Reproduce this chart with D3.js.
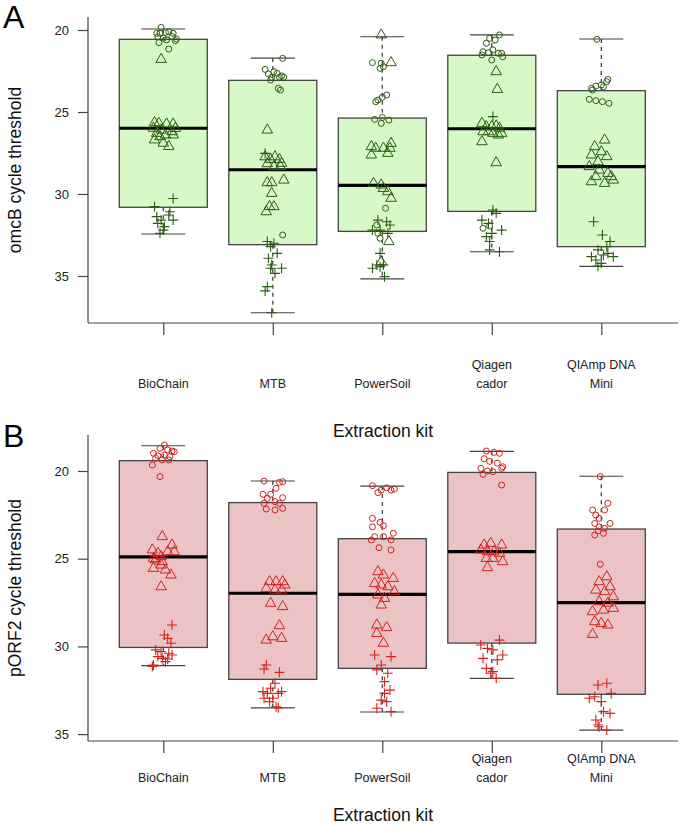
<!DOCTYPE html>
<html><head><meta charset="utf-8">
<script src="https://cdnjs.cloudflare.com/ajax/libs/d3/7.8.5/d3.min.js"></script>
<style>body{margin:0;background:#fff}svg{display:block;font-family:"Liberation Sans",Arial,Helvetica,sans-serif}</style>
</head><body><svg id="c" width="681" height="828"></svg>
<script>
// ---------- DATA ----------
const kits = [["BioChain"],["MTB"],["PowerSoil"],["Qiagen","cador"],["QIAmp DNA","Mini"]];
const ctTicks = [20,25,30,35];

// box statistics: [whiskerLow, q1, median, q3, whiskerHigh]
const omcbBoxes = [
  [19.94,20.57,25.99,30.81,32.44],
  [21.71,23.07,28.52,33.09,37.24],
  [20.41,25.37,29.47,32.28,35.18],
  [20.30,21.54,26.02,31.06,33.52],
  [20.55,23.70,28.33,33.21,34.41]
];
const porf2Boxes = [
  [18.56,19.41,24.90,30.06,31.10],
  [20.57,21.80,26.97,31.88,33.50],
  [20.86,23.86,27.03,31.25,33.74],
  [18.88,20.08,24.60,29.81,31.82],
  [20.30,23.31,27.50,32.73,34.77]
];

// points: [kit index, Ct value, horizontal jitter (kit units)]
const omcbCircles = [
  [0,19.84,-0.02],[0,20.2,-0.06],[0,20.2,-0.03],[0,20.15,0.02],[0,20.1,0.05],[0,20.2,0.09],[0,20.41,-0.05],[0,20.5,0],[0,20.6,0.03],[0,20.4,0.08],[0,20.55,0.12],[0,20.77,-0.04],[0,21.16,0.05],[0,20.65,0.11],
  [1,21.73,0.09],[1,22.4,-0.07],[1,22.54,0.01],[1,22.64,0.04],[1,22.8,0.08],[1,22.68,-0.04],[1,22.88,-0.01],[1,22.88,0.06],[1,22.88,0.1],[1,23.05,-0.02],[1,23.56,0.05],[1,23.66,0.07],[1,32.5,0.09],
  [2,21.99,-0.09],[2,22.03,-0.01],[2,22.24,0.01],[2,22.34,-0.02],[2,24.27,-0.04],[2,24.1,0],[2,23.96,0.04],[2,24.37,-0.06],[2,25.45,-0.07],[2,25.33,0],[2,25.49,0.06],[2,25.69,-0.01],[2,30.87,0.03],[2,31.89,-0.05],[2,32.4,-0.04],[2,32.7,-0.02],
  [3,20.3,0.07],[3,20.51,-0.02],[3,20.81,-0.05],[3,20.61,0.03],[3,21.32,-0.08],[3,21.38,-0.03],[3,21.22,0.01],[3,21.42,0.06],[3,21.63,0.1],[3,21.52,-0.09],[3,21.83,0],[3,21.42,0.09],[3,32.09,-0.08],[3,31.95,-0.02],
  [4,20.57,-0.04],[4,23.56,-0.09],[4,23.42,-0.05],[4,23.35,0],[4,23.15,0.05],[4,23.01,0.06],[4,23.66,-0.08],[4,23.46,0.02],[4,24.23,-0.11],[4,24.31,-0.05],[4,24.37,0.01],[4,24.47,0.07]
];
const omcbTriangles = [
  [0,21.79,-0.02],[0,25.65,-0.08],[0,25.69,-0.04],[0,25.73,0.03],[0,25.73,0.09],[0,25.99,-0.09],[0,26.1,-0.02],[0,26.0,0.11],[0,26.3,-0.06],[0,26.4,0.02],[0,26.4,0.09],[0,26.7,-0.08],[0,26.9,0],[0,27.1,0.05],[0,26.5,-0.03],[0,26.2,0.08],
  [1,26.1,-0.05],[1,27.73,-0.07],[1,27.89,-0.02],[1,27.73,0.02],[1,27.89,0.06],[1,28.13,0.08],[1,28.15,-0.05],[1,28.33,0.01],[1,28.33,0.07],[1,29.15,0.1],[1,29.31,-0.05],[1,29.31,-0.01],[1,29.96,-0.01],[1,30.77,-0.03],[1,31.08,-0.06],[1,30.77,0.01],
  [2,20.3,-0.01],[2,21.99,0.08],[2,27.11,-0.1],[2,27.21,-0.06],[2,27.21,0.01],[2,26.91,0.08],[2,27.21,0.07],[2,27.62,-0.1],[2,27.52,0.05],[2,29.35,-0.08],[2,29.45,-0.01],[2,29.66,0.01],[2,29.86,0.05],[2,30.26,0.08],[2,32.9,0.06],[2,34.13,-0.01],
  [3,22.54,0.04],[3,23.62,0.05],[3,25.69,-0.09],[3,25.89,-0.05],[3,25.89,0],[3,25.85,0.04],[3,25.99,0.07],[3,26.3,0.09],[3,26.2,-0.03],[3,26.3,0.01],[3,26.2,-0.08],[3,26.4,0.06],[3,26.81,-0.09],[3,28.09,0.04],
  [4,26.71,0.03],[4,27.11,-0.06],[4,27.42,0],[4,27.62,-0.09],[4,27.72,0.05],[4,28.03,-0.03],[4,28.33,-0.11],[4,28.54,-0.02],[4,28.74,0.06],[4,28.94,-0.05],[4,28.94,0.09],[4,29.25,-0.09],[4,29.35,0.03],[4,29.15,0.11]
];
const omcbPluses = [
  [0,30.77,-0.08],[0,30.27,0.09],[0,31.38,-0.06],[0,31.08,0.06],[0,31.59,-0.02],[0,31.59,0.09],[0,32.2,0],[0,32.4,-0.03],[0,31.79,-0.05],[0,31.28,0.05],[0,31.99,0.01],
  [1,27.52,-0.07],[1,32.9,-0.05],[1,33.0,0.01],[1,33.21,-0.02],[1,33.62,0.04],[1,33.92,-0.04],[1,34.33,-0.01],[1,34.53,0.08],[1,34.53,-0.02],[1,34.84,0.02],[1,35.65,-0.05],[1,35.91,-0.07],[1,37.24,-0.01],
  [2,31.59,-0.04],[2,31.69,0.04],[2,31.89,0.07],[2,32.2,-0.09],[2,32.2,-0.02],[2,32.4,0.05],[2,33.62,-0.02],[2,34.33,-0.05],[2,34.53,-0.09],[2,34.43,-0.02],[2,34.33,0.01],[2,35.04,0.02],
  [3,25.28,0.01],[3,30.98,0.01],[3,31.18,0.04],[3,31.59,-0.09],[3,31.79,-0.03],[3,32.2,0.09],[3,32.4,0],[3,32.6,-0.05],[3,32.9,-0.02],[3,33.41,-0.02],[3,33.52,0.07],
  [4,31.69,-0.07],[4,32.5,0.01],[4,32.9,0.08],[4,33.21,0.05],[4,33.41,-0.03],[4,33.82,-0.09],[4,33.72,0.02],[4,33.62,0.06],[4,33.82,0.11],[4,34.02,-0.05],[4,34.23,0],[4,34.4,-0.03]
];
const porf2Circles = [
  [0,18.52,0.01],[0,18.71,-0.03],[0,18.8,0.04],[0,18.86,0.08],[0,18.99,-0.09],[0,19.13,-0.05],[0,19.09,0.01],[0,19.18,0.06],[0,18.9,0.1],[0,19.28,-0.07],[0,19.37,-0.01],[0,19.37,0.05],[0,19.66,-0.1],[0,20.32,-0.03],
  [1,20.57,-0.08],[1,20.65,0.06],[1,20.61,0.09],[1,20.99,0.03],[1,21.33,-0.09],[1,21.33,-0.02],[1,21.52,0.09],[1,21.56,-0.05],[1,21.75,0.02],[1,21.84,-0.08],[1,21.84,0.06],[1,22.17,-0.06],[1,22.22,0.02],[1,22.13,0.09],
  [2,20.84,-0.09],[2,21.09,-0.01],[2,20.96,0.04],[2,21.09,0.08],[2,21.03,0.11],[2,21.23,-0.04],[2,22.7,-0.09],[2,22.93,-0.02],[2,23.12,0.01],[2,23.18,-0.09],[2,23.74,-0.07],[2,23.74,0.01],[2,23.93,0.08],[2,23.55,0.1],[2,24.37,-0.03],[2,24.5,0.08],[2,23.93,-0.1],
  [3,18.86,-0.05],[3,18.94,0.02],[3,18.99,0.07],[3,19.3,-0.07],[3,19.45,-0.02],[3,19.55,0.05],[3,19.85,-0.1],[3,20.0,-0.04],[3,20.04,0.01],[3,19.85,0.09],[3,19.76,0.1],[3,20.19,-0.08],[3,20.8,0.09],
  [4,20.32,-0.01],[4,21.84,0.06],[4,22.22,0.03],[4,22.22,-0.08],[4,22.51,-0.05],[4,22.7,-0.02],[4,22.99,-0.06],[4,22.99,0.08],[4,23.18,-0.02],[4,23.27,0.03],[4,23.65,-0.06],[4,23.55,0.02],[4,23.42,-0.03],[4,25.32,-0.01]
];
const porf2Triangles = [
  [0,23.74,-0.01],[0,24.22,0.08],[0,24.5,-0.1],[0,24.69,-0.05],[0,24.98,-0.09],[0,24.88,-0.02],[0,24.6,0.04],[0,24.6,0.1],[0,25.07,-0.07],[0,25.17,-0.01],[0,25.55,-0.09],[0,25.36,-0.02],[0,25.64,0.02],[0,25.93,0.07],[0,26.6,-0.02],
  [1,26.31,-0.03],[1,26.31,0.03],[1,26.31,0.09],[1,26.69,-0.06],[1,26.79,0.02],[1,26.79,0.08],[1,26.5,0.11],[1,27.54,-0.02],[1,27.73,0.09],[1,28.82,0.06],[1,29.45,0],[1,29.64,-0.06],[1,29.54,0.08],
  [2,25.74,-0.04],[2,25.93,0.01],[2,26.12,0.1],[2,26.41,-0.07],[2,26.5,-0.01],[2,26.6,0.05],[2,26.88,0.11],[2,27.07,-0.04],[2,27.26,0.02],[2,27.64,-0.01],[2,28.78,-0.05],[2,28.93,0.04],[2,29.26,-0.05],[2,29.82,0.01],
  [3,24.22,-0.07],[3,24.12,-0.01],[3,24.22,0.09],[3,24.5,-0.1],[3,24.6,-0.04],[3,24.6,0.02],[3,24.69,0.07],[3,24.98,-0.05],[3,24.98,0.01],[3,25.17,0.1],[3,25.51,-0.04],
  [4,26.03,0.05],[4,26.31,-0.02],[4,26.6,0.08],[4,26.79,-0.05],[4,26.88,0.03],[4,27.17,0.11],[4,27.45,-0.02],[4,27.54,0.06],[4,28.02,-0.08],[4,27.93,0.02],[4,27.83,0.11],[4,28.59,-0.06],[4,28.69,0],[4,28.78,0.06],[4,29.31,-0.08]
];
const porf2Pluses = [
  [0,28.78,0.08],[0,29.35,0.01],[0,29.54,0.04],[0,29.82,0.07],[0,30.2,-0.07],[0,30.3,-0.02],[0,30.39,0.05],[0,30.49,0.08],[0,30.58,-0.05],[0,30.68,-0.01],[0,30.87,0.02],[0,31.06,-0.09],[0,31.15,-0.1],[0,30.72,0.04],
  [1,31.06,-0.06],[1,31.29,-0.08],[1,31.48,0.06],[1,32.1,0.02],[1,32.39,-0.02],[1,32.58,-0.09],[1,32.68,-0.05],[1,32.68,0.05],[1,32.58,0.08],[1,32.96,-0.08],[1,32.96,0],[1,33.15,-0.03],[1,33.44,0.03],[1,33.5,0.05],
  [2,30.49,-0.07],[2,30.58,0.08],[2,31.06,-0.01],[2,31.34,-0.05],[2,31.53,0.05],[2,32.01,0.02],[2,32.49,0.07],[2,32.68,0.02],[2,33.06,-0.01],[2,33.53,-0.05],[2,33.72,0.08],[2,33.15,0.04],
  [3,29.64,0.07],[3,29.92,-0.1],[3,30.11,-0.04],[3,30.2,0.01],[3,30.49,0.1],[3,30.68,-0.08],[3,30.77,0.05],[3,31.25,-0.05],[3,31.44,0.01],[3,31.82,0.04],[3,31.53,-0.01],
  [4,32.1,0.05],[4,32.2,-0.03],[4,32.96,-0.11],[4,32.87,-0.06],[4,32.68,0.09],[4,33.15,0],[4,33.72,0.02],[4,33.82,0.08],[4,34.2,-0.05],[4,34.58,-0.02],[4,34.77,0.05],[4,34.48,-0.03]
];

// ---------- DRAW ----------
const svg = d3.select("#c");

function panel(cfg){
  const g = svg.append("g");
  const x = d3.scaleLinear().domain([0,4]).range([163.3,601.3]);
  const y = d3.scaleLinear().domain(cfg.ydom).range([cfg.top, cfg.bottom]);
  const left = 88, right = 678;
  const bw = 44, cw = 22;

  cfg.boxes.forEach((b,i)=>{
    const cx = x(i);
    g.append("line").attr("x1",cx).attr("x2",cx).attr("y1",y(b[0])).attr("y2",y(b[1]))
      .attr("stroke","#333").attr("stroke-width",1.2).attr("stroke-dasharray","4,4");
    g.append("line").attr("x1",cx).attr("x2",cx).attr("y1",y(b[3])).attr("y2",y(b[4]))
      .attr("stroke","#333").attr("stroke-width",1.2).attr("stroke-dasharray","4,4");
    g.append("line").attr("x1",cx-cw).attr("x2",cx+cw).attr("y1",y(b[0])).attr("y2",y(b[0]))
      .attr("stroke","#444").attr("stroke-width",1.2);
    g.append("line").attr("x1",cx-cw).attr("x2",cx+cw).attr("y1",y(b[4])).attr("y2",y(b[4]))
      .attr("stroke","#444").attr("stroke-width",1.2);
    g.append("rect").attr("x",cx-bw).attr("width",2*bw).attr("y",y(b[1])).attr("height",y(b[3])-y(b[1]))
      .attr("fill",cfg.fill).attr("stroke","#444").attr("stroke-width",1.3);
    g.append("line").attr("x1",cx-bw).attr("x2",cx+bw).attr("y1",y(b[2])).attr("y2",y(b[2]))
      .attr("stroke","#000").attr("stroke-width",3.2);
  });

  const px = d=>x(d[0]+d[2]);
  g.selectAll(null).data(cfg.circles).join("circle")
    .attr("cx",px).attr("cy",d=>y(d[1])).attr("r",3)
    .attr("fill","none").attr("stroke",cfg.col).attr("stroke-width",1);
  const tri = d3.symbol().type(d3.symbolTriangle).size(48);
  g.selectAll(null).data(cfg.triangles).join("path")
    .attr("d",tri).attr("transform",d=>`translate(${px(d)},${y(d[1])})`)
    .attr("fill","none").attr("stroke",cfg.col).attr("stroke-width",1);
  g.selectAll(null).data(cfg.pluses).join("path")
    .attr("d","M-5,0H5M0,-5V5").attr("transform",d=>`translate(${px(d)},${y(d[1])})`)
    .attr("fill","none").attr("stroke",cfg.col).attr("stroke-width",1.1);

  const ya = g.append("g").attr("transform",`translate(${left},0)`)
    .call(d3.axisLeft(y).tickValues(ctTicks).tickSize(10).tickPadding(9).tickSizeOuter(0));
  ya.select(".domain").attr("stroke","#444").attr("stroke-width",1.2).attr("d",`M0,${cfg.top}V${cfg.bottom}`);
  ya.selectAll(".tick line").attr("stroke","#444").attr("stroke-width",1.2);
  ya.selectAll(".tick text").attr("font-size",13).attr("fill","#222").attr("font-family","Liberation Sans, Arial, sans-serif");

  const xa = g.append("g").attr("transform",`translate(0,${cfg.bottom})`)
    .call(d3.axisBottom(x).tickValues([0,1,2,3,4]).tickSize(12).tickFormat(""));
  xa.select(".domain").attr("stroke","#444").attr("stroke-width",1.2).attr("d",`M${left},0H${right}`);
  xa.selectAll(".tick line").attr("stroke","#444").attr("stroke-width",1.2);

  kits.forEach((k,i)=>{
    k.forEach((line,j)=>{
      g.append("text").attr("x",x(i)).attr("y",cfg.lab2 - (k.length-1-j)*cfg.lineH)
        .attr("text-anchor","middle").attr("dominant-baseline","central")
        .attr("font-size",12.5).attr("fill","#222").text(line);
    });
  });
  g.append("text").attr("x",383).attr("y",cfg.xtitle).attr("text-anchor","middle")
    .attr("dominant-baseline","central").attr("font-size",17.5).attr("fill","#111").text("Extraction kit");
  g.append("text").attr("transform",`translate(21,${(cfg.top+cfg.bottom)/2}) rotate(-90)`)
    .attr("text-anchor","middle").attr("font-size",17.5).attr("fill","#111").text(cfg.ytitle);
  g.append("text").attr("x",3).attr("y",cfg.letterY).attr("font-size",32).attr("fill","#000").text(cfg.letter);
}

panel({ydom:[19.207,37.866], top:17, bottom:323, boxes:omcbBoxes, circles:omcbCircles,
  triangles:omcbTriangles, pluses:omcbPluses, fill:"#d6f9c7", col:"#2c5e12",
  lab2:384, lineH:19, xtitle:431, ytitle:"omcB cycle threshold", letter:"A", letterY:28});
panel({ydom:[17.948,35.393], top:435, bottom:741, boxes:porf2Boxes, circles:porf2Circles,
  triangles:porf2Triangles, pluses:porf2Pluses, fill:"#ebc3c4", col:"#d2231d",
  lab2:778, lineH:19, xtitle:815, ytitle:"pORF2 cycle threshold", letter:"B", letterY:447});
</script></body></html>
